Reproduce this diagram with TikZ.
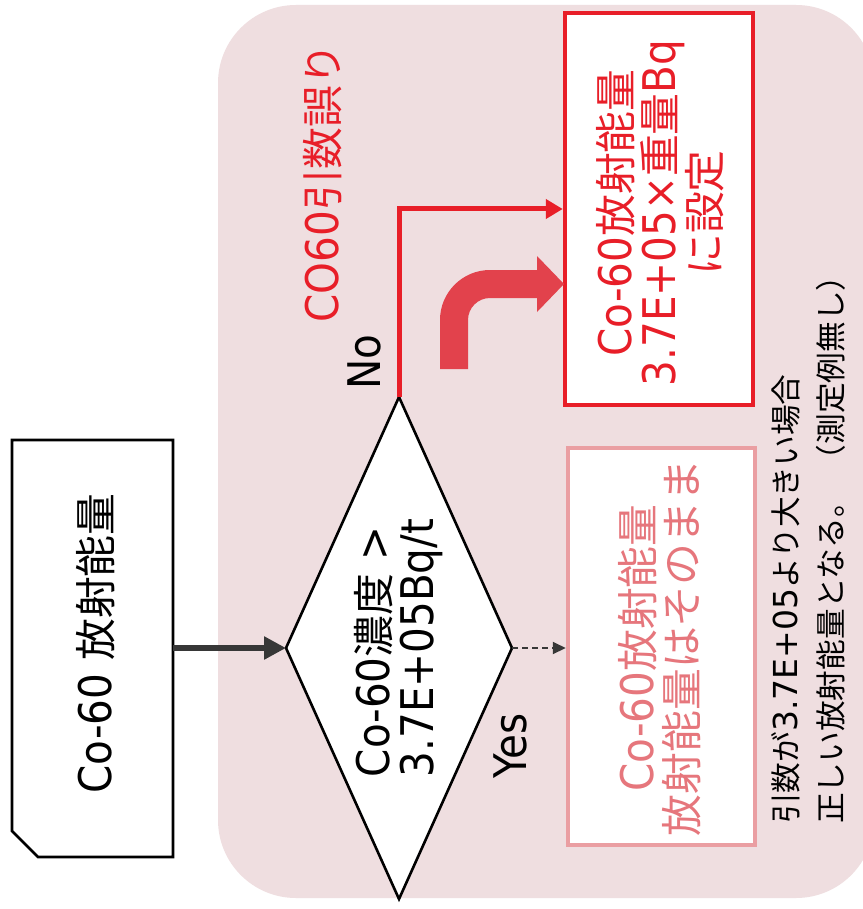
\documentclass[tikz,border=0pt]{standalone}
\usepackage{fontspec}
\setmainfont[FakeStretch=0.9]{DejaVu Sans}
\newfontfamily\jp[Scale=0.93]{Noto Sans CJK JP}
\newfontfamily\wdf{DejaVu Sans}
\usetikzlibrary{arrows.meta,shapes.geometric}
\definecolor{bgpink}{RGB}{239,222,224}
\definecolor{cred}{RGB}{232,30,40}
\definecolor{cbigarrow}{RGB}{226,66,76}
\definecolor{pinkline}{RGB}{234,158,162}
\definecolor{pinktext}{RGB}{230,118,124}
\definecolor{darkline}{RGB}{55,55,55}
\begin{document}
\begin{tikzpicture}[x=1pt,y=-1pt,
  lbl/.style={rotate=90, inner sep=0pt, font=\fontsize{45}{44}\selectfont},
  notelbl/.style={rotate=90, inner sep=0pt, font=\wdf\fontsize{33}{45}\selectfont},
  boxnode/.style={rectangle, inner sep=0pt, fill=white},
  redarrow/.style={cred, line width=5pt, -{Triangle[length=17pt,width=19pt]}},
  darkarrow/.style={darkline, line width=5.5pt, -{Triangle[length=22pt,width=22pt]}},
  dasharrow/.style={darkline, line width=2pt, dash pattern=on 6pt off 4pt, -{Triangle[length=13pt,width=12pt]}}]
\useasboundingbox (0,0) rectangle (862,909);
\fill[white] (0,0) rectangle (862,909);
% background panel
\fill[bgpink, rounded corners=78pt] (218,5) rectangle (874,898);

% source box with cut corner
\node[minimum width=161pt, minimum height=417pt, inner sep=0pt, outer sep=0pt] (src) at (92.5,648.5) {};
\draw[line width=2.8pt, fill=white] (src.north west) -- (src.north east) -- (src.south east)
  -- ([xshift=26pt]src.south west) -- ([yshift=26pt]src.south west) -- cycle;
\node[lbl] (srct) at ([xshift=3pt,yshift=5pt]src.center) {Co-60 {\jp 放射能量}};

% decision diamond
\node[diamond, draw, fill=white, line width=2.6pt, minimum width=226pt, minimum height=502pt,
  inner sep=0pt, outer sep=0pt] (dia) at (399,648) {};
\node[lbl, align=left] (diat) at (399,648) {Co-60{\jp 濃度} >\\3.7E+05Bq/t};

% result boxes
\node[boxnode, draw=cred, line width=4.5pt, minimum width=188pt, minimum height=392pt] (redbox) at (659,209) {};
\node[lbl, cred, align=center] (redt) at (660,213) {Co-60{\jp 放射能量}\\3.7E+05×{\jp 重量}Bq\\{\jp に設定}};
\node[boxnode, draw=pinkline, line width=4.5pt, minimum width=187pt, minimum height=397pt] (okbox) at (661.5,646.5) {};
\node[lbl, pinktext, align=center] (okt) at (660,648) {Co-60{\jp 放射能量}\\{\jp 放射能量はそのまま}};

% connectors
\draw[darkarrow] (src.east |- dia.west) -- (dia.west);
\draw[redarrow] (dia.north) |- (redbox.west);
\draw[dasharrow] (dia.east) -- (dia.east -| okbox.west);

% big curved arrow
\fill[cbigarrow] (440,369) -- (440,320) .. controls (440,292.4) and (462.4,270) .. (490,270)
  -- (537,270) -- (537,256) -- (564,284) -- (537,312) -- (537,298) -- (490,298)
  .. controls (477.85,298) and (468,307.85) .. (468,320) -- (468,369) -- cycle;

% labels
\node[lbl] (no) at (364,362) {No};
\node[lbl] (yes) at (510,746) {Yes};
\node[lbl, cred] (err) at (323,183) {CO60{\jp 引数誤り}};
\node[notelbl, anchor=west, align=left] (note) at (808,824)
  {{\jp 引数が}3.7E+05{\jp より大きい場合}\\{\jp 正しい放射能量となる。}\hspace{12pt}{\jp （測定例無し）}};
\end{tikzpicture}
\end{document}
